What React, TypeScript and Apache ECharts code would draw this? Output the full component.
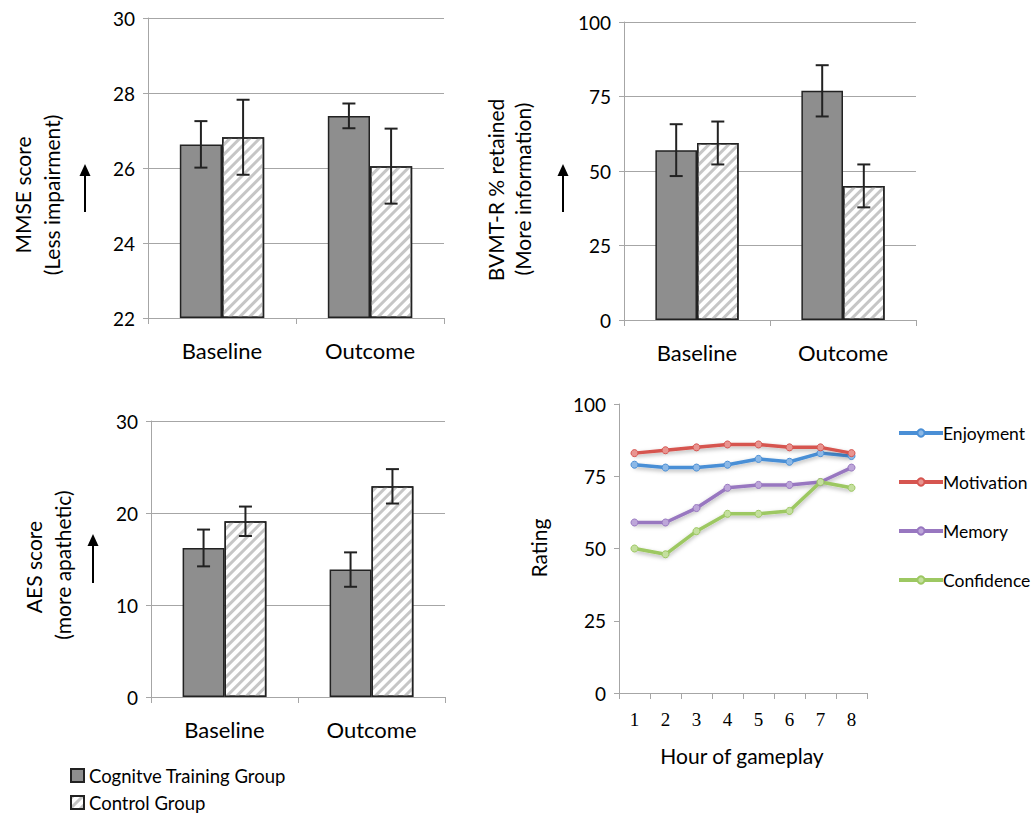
import React, { useEffect, useRef } from "react";
import * as echarts from "echarts";

const categories = ["Baseline", "Outcome"];
const mmseTraining = [26.63, 27.39];
const mmseTrainingErr = [0.62, 0.33];
const mmseControl = [26.82, 26.05];
const mmseControlErr = [1.0, 1.0];
const bvmtTraining = [57.0, 76.9];
const bvmtTrainingErr = [8.7, 8.6];
const bvmtControl = [59.4, 45.0];
const bvmtControlErr = [7.2, 7.2];
const aesTraining = [16.2, 13.85];
const aesTrainingErr = [2.0, 1.87];
const aesControl = [19.1, 22.9];
const aesControlErr = [1.6, 1.87];

const hours = ["1", "2", "3", "4", "5", "6", "7", "8"];
const enjoyment = [79, 78, 78, 79, 81, 80, 83, 82];
const motivation = [83, 84, 85, 86, 86, 85, 85, 83];
const memory = [59, 59, 64, 71, 72, 72, 73, 78];
const confidence = [50, 48, 56, 62, 62, 63, 73, 71];

const TRAIN = "Cognitve Training Group";
const CONTROL = "Control Group";
const FONT = "Lato";
const GRAY = "#a6a6a6";
const GAP = 0.43;

const trainStyle = { color: "#8e8e8e", borderColor: "#222", borderWidth: 1.5 };
const controlStyle = {
  color: "#ffffff",
  borderColor: "#222",
  borderWidth: 1.5,
  decal: {
    symbol: "rect",
    symbolSize: 1,
    dashArrayX: [1, 0],
    dashArrayY: [3, 4],
    rotation: -Math.PI / 4,
    color: "#c6c6c6",
  },
};

function errRender(sign: number) {
  return (params: any, api: any) => {
    const xi = api.value(0);
    const v = api.value(1);
    const e = api.value(2);
    const band = api.size([1, 0])[0];
    const barW = (band * (1 - GAP)) / 2;
    const c = api.coord([xi, v]);
    const x = c[0] + (sign * barW) / 2;
    const top = api.coord([xi, v + e])[1];
    const bot = api.coord([xi, v - e])[1];
    const cap = 6.5;
    const style = { stroke: "#222", lineWidth: 2 };
    return {
      type: "group",
      children: [
        { type: "line", shape: { x1: x, y1: top, x2: x, y2: bot }, style },
        { type: "line", shape: { x1: x - cap, y1: top, x2: x + cap, y2: top }, style },
        { type: "line", shape: { x1: x - cap, y1: bot, x2: x + cap, y2: bot }, style },
      ],
    };
  };
}

function barPanel(idx: number, train: number[], trainErr: number[], ctrl: number[], ctrlErr: number[]) {
  return [
    {
      type: "bar",
      name: TRAIN,
      xAxisIndex: idx,
      yAxisIndex: idx,
      data: train,
      barGap: "0%",
      barCategoryGap: GAP * 100 + "%",
      itemStyle: trainStyle,
    },
    {
      type: "bar",
      name: CONTROL,
      xAxisIndex: idx,
      yAxisIndex: idx,
      data: ctrl,
      barGap: "0%",
      barCategoryGap: GAP * 100 + "%",
      itemStyle: controlStyle,
    },
    {
      type: "custom",
      name: "err-train-" + idx,
      xAxisIndex: idx,
      yAxisIndex: idx,
      z: 10,
      renderItem: errRender(-1),
      data: train.map((v, i) => [i, v, trainErr[i]]),
    },
    {
      type: "custom",
      name: "err-ctrl-" + idx,
      xAxisIndex: idx,
      yAxisIndex: idx,
      z: 10,
      renderItem: errRender(1),
      data: ctrl.map((v, i) => [i, v, ctrlErr[i]]),
    },
  ];
}

function catAxis(idx: number, data: string[], serif = false, margin = 21) {
  return {
    type: "category",
    gridIndex: idx,
    data,
    axisLine: { show: true, lineStyle: { color: GRAY, width: 1 } },
    axisTick: { show: true, length: 6, lineStyle: { color: GRAY } },
    axisLabel: {
      color: "#000",
      fontFamily: serif ? "Liberation Serif" : FONT,
      fontSize: serif ? 19 : 22,
      margin,
    },
  };
}

function valAxis(idx: number, min: number, max: number, interval: number, split = true) {
  return {
    type: "value",
    gridIndex: idx,
    min,
    max,
    interval,
    startValue: min,
    axisLine: { show: true, lineStyle: { color: GRAY, width: 1 } },
    axisTick: { show: true, length: 5, lineStyle: { color: GRAY } },
    splitLine: { show: split, lineStyle: { color: GRAY, width: 1 } },
    axisLabel: { color: "#000", fontFamily: FONT, fontSize: 19, margin: 13 },
  };
}

const lineColors = ["#4a8fd6", "#d65550", "#9877c0", "#9dc862"];
const lineLight = ["#8cb8e6", "#e89490", "#bda6d9", "#c4df9e"];

function lineSeries(name: string, data: number[], i: number) {
  return {
    type: "line",
    name,
    xAxisIndex: 3,
    yAxisIndex: 3,
    data,
    symbol: "circle",
    symbolSize: 7,
    color: lineColors[i],
    lineStyle: {
      color: lineColors[i],
      width: 3.5,
      shadowColor: "rgba(0,0,0,0.3)",
      shadowBlur: 4,
      shadowOffsetY: 2,
    },
    itemStyle: { color: lineLight[i], borderColor: lineColors[i], borderWidth: 1 },
  };
}

function vText(text: string, x: number, y: number, size = 21) {
  return {
    type: "text",
    x,
    y,
    rotation: Math.PI / 2,
    style: {
      text,
      fill: "#000",
      font: `${size}px ${FONT}`,
      align: "center",
      verticalAlign: "middle",
    },
  };
}

function arrow(x: number, base: number, tip: number) {
  return [
    {
      type: "line",
      shape: { x1: x, y1: base, x2: x, y2: tip + 8 },
      style: { stroke: "#000", lineWidth: 2 },
    },
    {
      type: "polygon",
      shape: { points: [[x, tip], [x - 5.5, tip + 12], [x + 5.5, tip + 12]] },
      style: { fill: "#000" },
    },
  ];
}

export default function App() {
  const ref = useRef<HTMLDivElement>(null);
  useEffect(() => {
    if (!ref.current) return;
    const chart = echarts.init(ref.current, null, { renderer: "svg" });
    const option: any = {
      animation: false,
      backgroundColor: "#fff",
      grid: [
        { left: 148, top: 18, width: 296, height: 300 },
        { left: 624, top: 22, width: 292, height: 298 },
        { left: 151, top: 421, width: 294, height: 276 },
        { left: 619, top: 404, width: 248, height: 289 },
      ],
      xAxis: [
        catAxis(0, categories),
        catAxis(1, categories),
        catAxis(2, categories),
        catAxis(3, hours, true, 17),
      ],
      yAxis: [
        valAxis(0, 22, 30, 2),
        valAxis(1, 0, 100, 25),
        valAxis(2, 0, 30, 10),
        valAxis(3, 0, 100, 25, false),
      ],
      legend: [
        {
          orient: "vertical",
          left: 70,
          top: 766,
          padding: 0,
          height: 60,
          itemWidth: 13,
          itemHeight: 13,
          itemGap: 8,
          icon: "rect",
          data: [TRAIN, CONTROL],
          textStyle: { fontFamily: FONT, fontSize: 18.5, color: "#000", lineHeight: 18 },
        },
        {
          orient: "vertical",
          left: 897,
          top: 424,
          padding: 0,
          itemWidth: 44,
          itemHeight: 9,
          itemGap: 31,
          lineStyle: { width: 4 },
          data: ["Enjoyment", "Motivation", "Memory", "Confidence"],
          textStyle: { fontFamily: FONT, fontSize: 17.5, color: "#000", lineHeight: 18, padding: [0, 0, 0, -5] },
        },
      ],
      series: [
        ...barPanel(0, mmseTraining, mmseTrainingErr, mmseControl, mmseControlErr),
        ...barPanel(1, bvmtTraining, bvmtTrainingErr, bvmtControl, bvmtControlErr),
        ...barPanel(2, aesTraining, aesTrainingErr, aesControl, aesControlErr),
        lineSeries("Enjoyment", enjoyment, 0),
        lineSeries("Motivation", motivation, 1),
        lineSeries("Memory", memory, 2),
        lineSeries("Confidence", confidence, 3),
      ],
      graphic: [
        vText("MMSE score", 22, 195),
        vText("(Less impairment)", 51, 195),
        vText("BVMT-R % retained", 495, 190),
        vText("(More information)", 522, 189),
        vText("AES score", 33, 567),
        vText("(more apathetic)", 62, 565),
        vText("Rating", 538, 548),
        {
          type: "text",
          x: 742,
          y: 755,
          style: {
            text: "Hour of gameplay",
            fill: "#000",
            font: `21px ${FONT}`,
            align: "center",
            verticalAlign: "middle",
          },
        },
        ...arrow(85, 212, 164),
        ...arrow(563, 212, 164),
        ...arrow(93, 583, 534),
      ],
    };
    chart.setOption(option);
    return () => chart.dispose();
  }, []);
  return (
    <div
      ref={ref}
      style={{ position: "absolute", left: 0, top: 0, width: 1035, height: 816 }}
    />
  );
}
